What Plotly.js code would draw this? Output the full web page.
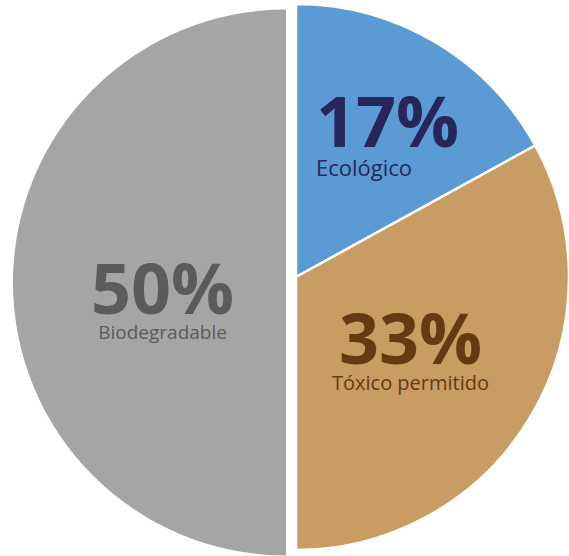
<!DOCTYPE html>
<html>
<head>
<meta charset="utf-8">
<script src="https://cdn.plot.ly/plotly-3.0.1.min.js"></script>
<style>html,body{margin:0;padding:0;background:#fff;}#chart{width:569px;height:556px;}</style>
</head>
<body>
<div id="chart"></div>
<script>
// ---- data ----
var categories = ['Ecológico', 'Tóxico permitido', 'Biodegradable'];
var values = [17, 33, 50];

// ---- styles ----
var sliceColors = ['#5B9BD5', '#C99C64', '#A5A5A5'];
var textColors = ['#27255A', '#653A12', '#5B5B5B'];
var clear = 'rgba(0,0,0,0)';
// label placement (paper pixels): x, y (box centre), anchor, name font size
var labelStyle = [
  {x: 314, y: 127, anchor: 'left', size: 22},
  {x: 410, y: 342, anchor: 'center', size: 20},
  {x: 162, y: 292, anchor: 'center', size: 19}
];
var pctSize = 70;
var W = 569, H = 556;

var traceRight = {
  type: 'pie', labels: categories, values: values, sort: false,
  direction: 'clockwise', rotation: 0, textinfo: 'none', hoverinfo: 'none',
  marker: {colors: [sliceColors[0], sliceColors[1], clear], line: {color: '#ffffff', width: [2.5, 2.5, 0]}},
  domain: {x: [0.0404, 1.0], y: [0.0108, 0.9928]}
};
var traceLeft = {
  type: 'pie', labels: categories, values: values, sort: false,
  direction: 'clockwise', rotation: 0, textinfo: 'none', hoverinfo: 'none',
  marker: {colors: [clear, clear, sliceColors[2]], line: {color: '#ffffff', width: 0}},
  domain: {x: [0.0228, 0.9824], y: [0.0009, 0.9829]}
};

var annotations = [];
for (var i = 0; i < categories.length; i++) {
  var s = labelStyle[i];
  annotations.push({
    xref: 'paper', yref: 'paper', x: s.x / W, y: 1 - s.y / H,
    xanchor: s.anchor, yanchor: 'middle', align: s.anchor, showarrow: false,
    text: '<span style="font-size:' + pctSize + 'px"><b>' + values[i] + '%</b></span><br>' + categories[i],
    font: {family: 'Open Sans, sans-serif', size: s.size, color: textColors[i]}
  });
}

var layout = {
  width: W, height: H, margin: {l: 0, r: 0, t: 0, b: 0},
  paper_bgcolor: '#ffffff', showlegend: false, annotations: annotations
};
Plotly.newPlot('chart', [traceLeft, traceRight], layout, {displayModeBar: false, staticPlot: true});
</script>
</body>
</html>
